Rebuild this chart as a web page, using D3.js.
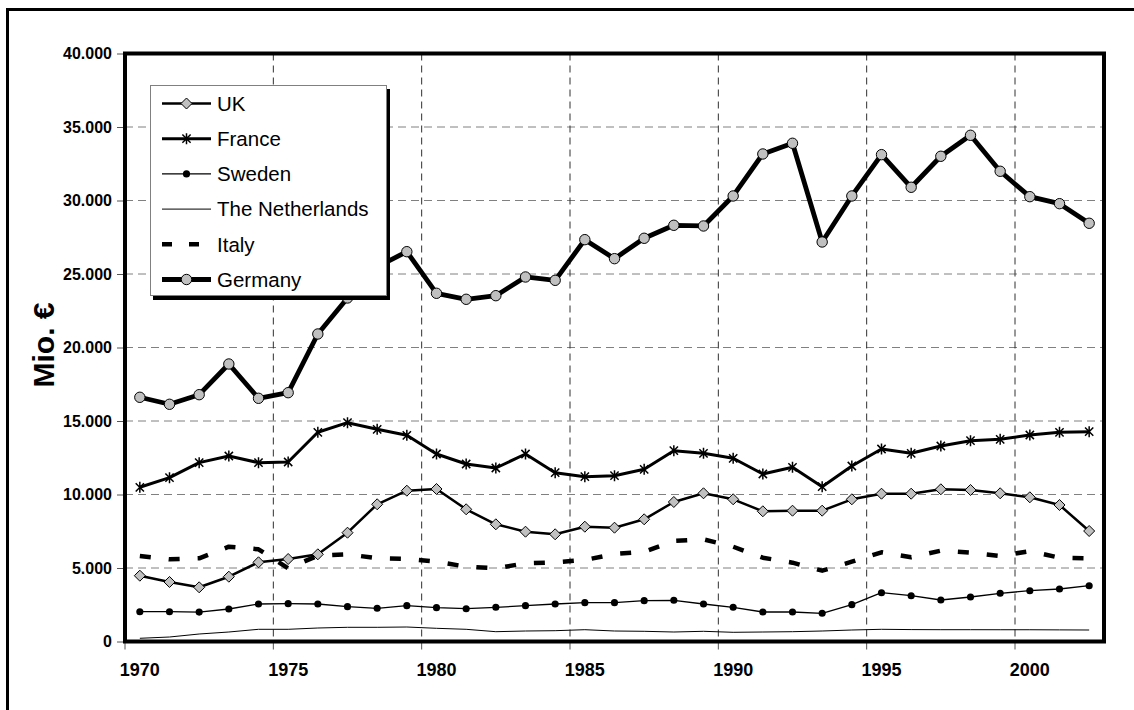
<!DOCTYPE html>
<html><head><meta charset="utf-8">
<script src="https://cdn.jsdelivr.net/npm/d3@7"></script>
<style>body{margin:0;background:#fff}svg{display:block}text{font-family:"Liberation Sans",Arial,sans-serif}</style>
</head><body>
<svg id="c" width="1134" height="710"></svg>
<script>
const years = d3.range(1970, 2003);
const yTicks = [0,5000,10000,15000,20000,25000,30000,35000,40000];
const xLabelYears = [1970,1975,1980,1985,1990,1995,2000];
const uk = [4476,4048,3687,4408,5388,5612,5932,7402,9334,10259,10375,8994,7973,7470,7293,7810,7742,8313,9490,10082,9674,8858,8898,8898,9674,10055,10055,10354,10307,10082,9810,9286,7517];
const france = [10490,11145,12166,12620,12166,12212,14232,14886,14436,14028,12756,12075,11803,12756,11484,11212,11280,11715,12980,12803,12463,11395,11851,10531,11939,13096,12803,13300,13661,13756,14048,14232,14273];
const sweden = [2027,2027,2000,2211,2551,2572,2551,2368,2259,2436,2300,2231,2327,2436,2551,2640,2640,2776,2803,2551,2327,2007,2007,1918,2504,3320,3116,2823,3027,3279,3456,3572,3796];
const netherlands = [218,306,510,646,830,830,918,966,966,986,898,830,667,714,735,803,714,694,646,694,626,646,667,714,782,830,810,803,803,800,800,790,782];
const italy = [5817,5592,5660,6449,6272,4980,5837,5932,5660,5612,5429,5089,4980,5320,5388,5544,5953,6109,6837,6953,6449,5701,5361,4817,5429,6068,5728,6177,6041,5817,6150,5701,5660];
const germany = [16613,16137,16790,18878,16545,16926,20919,23370,25490,26518,23688,23280,23525,24797,24570,27336,26043,27430,28314,28267,30308,33165,33893,27178,30308,33119,30900,33009,34437,31988,30260,29784,28451];
const seriesNames = ["UK","France","Sweden","The Netherlands","Italy","Germany"];

const svg = d3.select("#c");
const L = 125, R = 1104, T = 53.5, B = 641.5;
const x = d3.scaleBand().domain(years).range([L, R]).padding(0);
const bw = x.bandwidth();
const cx = yr => x(yr) + bw / 2;
const y = d3.scaleLinear().domain([0, 40000]).range([B, T]);

// outer frame
svg.append("path").attr("d", "M7.5,712 L7.5,9.5 L1136,9.5").attr("fill","none").attr("stroke","#000").attr("stroke-width",3);

// gridlines
svg.append("g").selectAll("line").data(yTicks.filter(v => v > 0 && v < 40000)).join("line")
  .attr("x1", L).attr("x2", R).attr("y1", d => y(d)).attr("y2", d => y(d))
  .attr("stroke", "#808080").attr("stroke-width", 1).attr("stroke-dasharray", "8,5");
svg.append("g").selectAll("line").data(xLabelYears.filter(v => v > 1970)).join("line")
  .attr("x1", d => x(d)).attr("x2", d => x(d)).attr("y1", T).attr("y2", B)
  .attr("stroke", "#303030").attr("stroke-width", 1).attr("stroke-dasharray", "7,5");

// axes
const yAxis = svg.append("g").attr("transform", `translate(${L},0)`)
  .call(d3.axisLeft(y).tickValues(yTicks).tickSize(8).tickPadding(5)
    .tickFormat(d => d3.format(",")(d).replace(/,/g, ".")));
yAxis.select(".domain").remove();
yAxis.selectAll(".tick line").attr("stroke", "#555");
yAxis.selectAll("text").attr("font-size", 16).attr("font-weight", "bold").attr("fill", "#000")
  .style("font-family", '"Liberation Sans",Arial,sans-serif');

const xAxis = svg.append("g").attr("transform", `translate(0,${B})`)
  .call(d3.axisBottom(x).tickValues(xLabelYears).tickSize(0).tickPadding(22));
xAxis.select(".domain").remove();
xAxis.selectAll("text").attr("font-size", 18).attr("font-weight", "bold").attr("fill", "#000")
  .style("font-family", '"Liberation Sans",Arial,sans-serif');
svg.append("g").selectAll("line").data(xLabelYears).join("line")
  .attr("x1", d => x(d)).attr("x2", d => x(d)).attr("y1", B).attr("y2", B + 8)
  .attr("stroke", "#555").attr("stroke-width", 1);

// y title
svg.append("text").attr("transform", "translate(54,345) rotate(-90)")
  .attr("text-anchor", "middle").attr("font-size", 30).attr("font-weight", "bold").text("Mio. €");

const line = d3.line().x((d, i) => cx(years[i])).y(d => y(d));
const clip = svg.append("g");

function drawLine(data, w, dash) {
  clip.append("path").datum(data).attr("d", line).attr("fill", "none")
    .attr("stroke", "#000").attr("stroke-width", w).attr("stroke-linejoin", "round")
    .attr("stroke-dasharray", dash || null);
}
const diamond = s => `M0,${-s}L${s},0L0,${s}L${-s},0Z`;
const star = s => `M0,${-s}V${s}M${-s*0.75},${-s*0.75}L${s*0.75},${s*0.75}M${s*0.75},${-s*0.75}L${-s*0.75},${s*0.75}`;

function markers(g, data, type) {
  const sel = g.append("g").selectAll("path").data(data).join("path")
    .attr("transform", (d, i) => `translate(${cx(years[i])},${y(d)})`);
  styleMarker(sel, type);
}
function styleMarker(sel, type) {
  if (type === "diamond") sel.attr("d", diamond(5.5)).attr("fill", "#c0c0c0").attr("stroke", "#000").attr("stroke-width", 1);
  if (type === "star") sel.attr("d", star(5.5)).attr("fill", "none").attr("stroke", "#000").attr("stroke-width", 1.5);
  if (type === "dot") sel.attr("d", d3.symbol(d3.symbolCircle, 40)()).attr("fill", "#000");
  if (type === "circle") sel.attr("d", d3.symbol(d3.symbolCircle, 85)()).attr("fill", "#c0c0c0").attr("stroke", "#000").attr("stroke-width", 1);
}

const specs = [
  {data: uk, w: 2.5, m: "diamond"},
  {data: france, w: 3, m: "star"},
  {data: sweden, w: 1.3, m: "dot"},
  {data: netherlands, w: 1, m: null},
  {data: italy, w: 4.5, m: null, dash: "11,18"},
  {data: germany, w: 4.8, m: "circle"}
];
specs.forEach(s => {
  drawLine(s.data, s.w, s.dash);
  if (s.m) markers(clip, s.data, s.m);
});

// plot border
svg.append("rect").attr("x", L).attr("y", T).attr("width", R - L).attr("height", B - T)
  .attr("fill", "none").attr("stroke", "#000").attr("stroke-width", 4);

// legend
const lg = svg.append("g");
lg.append("rect").attr("x", 153).attr("y", 89).attr("width", 237).attr("height", 211).attr("fill", "#000");
lg.append("rect").attr("x", 150.5).attr("y", 85.5).attr("width", 236).attr("height", 210).attr("fill", "#fff").attr("stroke", "#808080").attr("stroke-width", 1);
const legY0 = 103.5, legDy = 35.2;
seriesNames.forEach((name, i) => {
  const s = specs[i], yy = legY0 + i * legDy;
  lg.append("line").attr("x1", 162).attr("x2", 211).attr("y1", yy).attr("y2", yy)
    .attr("stroke", "#000").attr("stroke-width", s.w).attr("stroke-dasharray", s.dash ? "10,17" : null);
  if (s.m) {
    const p = lg.append("path").attr("transform", `translate(186.5,${yy})`);
    styleMarker(p, s.m);
  }
  lg.append("text").attr("x", 217).attr("y", yy).attr("dy", "0.36em").attr("font-size", 20.5).text(name);
});
</script>
</body></html>
